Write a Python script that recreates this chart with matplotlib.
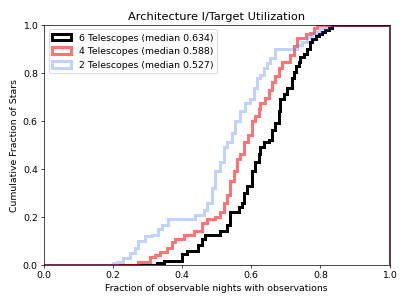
import matplotlib
matplotlib.use("Agg")
import matplotlib.pyplot as plt
import matplotlib.patches as mpatches

# step edges (fraction of nights) and cumulative fraction
x6 = [0.327, 0.346, 0.399, 0.414, 0.447, 0.457, 0.467, 0.510, 0.529, 0.539,
      0.563, 0.573, 0.578, 0.587, 0.602, 0.612, 0.621, 0.626, 0.636, 0.650,
      0.660, 0.670, 0.679, 0.684, 0.694, 0.703, 0.718, 0.723, 0.728, 0.737,
      0.742, 0.752, 0.761, 0.771, 0.776, 0.786, 0.795, 0.805, 0.814, 0.824, 0.834]
y6 = [0.007, 0.017, 0.045, 0.06, 0.083, 0.11, 0.125, 0.14, 0.165, 0.22,
      0.24, 0.26, 0.30, 0.33, 0.39, 0.43, 0.46, 0.49, 0.51, 0.52,
      0.56, 0.59, 0.64, 0.69, 0.71, 0.735, 0.78, 0.805, 0.83, 0.845,
      0.865, 0.88, 0.90, 0.93, 0.94, 0.955, 0.96, 0.97, 0.98, 0.985, 1.0]

x4 = [0.273, 0.307, 0.322, 0.336, 0.356, 0.370, 0.380, 0.404, 0.433, 0.457,
      0.471, 0.496, 0.510, 0.520, 0.529, 0.539, 0.549, 0.558, 0.568, 0.580,
      0.590, 0.602, 0.612, 0.621, 0.626, 0.641, 0.650, 0.660, 0.670, 0.679,
      0.689, 0.713, 0.723, 0.732, 0.757, 0.771, 0.781, 0.790]
y4 = [0.014, 0.035, 0.042, 0.056, 0.07, 0.097, 0.11, 0.125, 0.14, 0.174,
      0.19, 0.20, 0.22, 0.26, 0.29, 0.35, 0.39, 0.44, 0.46, 0.51,
      0.54, 0.60, 0.62, 0.65, 0.675, 0.695, 0.73, 0.76, 0.785, 0.82,
      0.845, 0.875, 0.91, 0.945, 0.96, 0.965, 0.986, 1.0]

x2 = [0.201, 0.211, 0.230, 0.249, 0.264, 0.273, 0.293, 0.312, 0.331, 0.341,
      0.360, 0.438, 0.462, 0.471, 0.486, 0.496, 0.510, 0.520, 0.529, 0.544,
      0.554, 0.568, 0.583, 0.597, 0.607, 0.616, 0.626, 0.636, 0.645, 0.655,
      0.670, 0.732, 0.747, 0.761, 0.776, 0.786, 0.800, 0.819]
y2 = [0.007, 0.014, 0.028, 0.05, 0.07, 0.10, 0.12, 0.125, 0.15, 0.167,
      0.19, 0.21, 0.23, 0.26, 0.32, 0.39, 0.43, 0.49, 0.51, 0.55,
      0.60, 0.64, 0.675, 0.69, 0.735, 0.78, 0.79, 0.82, 0.84, 0.86,
      0.90, 0.915, 0.93, 0.95, 0.965, 0.97, 0.985, 1.0]

labels = ['6 Telescopes (median 0.634)',
          '4 Telescopes (median 0.588)',
          '2 Telescopes (median 0.527)']

plt.rcParams['font.size'] = 10.7

fig = plt.figure(figsize=(6.4, 4.8), dpi=63.6)
ax = fig.add_axes([0.108, 0.131, 0.849, 0.787])

series = [(x6, y6, 'k', 1.0), (x4, y4, 'r', 0.55), (x2, y2, '#4d7fff', 0.35)]
handles = []
for (xs, ys, c, a), lab in zip(series, labels):
    edges = [0.0] + xs + [1.0]
    vals = [0.0] + ys
    ax.stairs(vals, edges, baseline=0, fill=False, color=c, alpha=a,
              linewidth=3.4)
    handles.append(mpatches.Patch(fill=False, edgecolor=c, alpha=a,
                                  linewidth=3.4, label=lab))

ax.set_xlim(0, 1)
ax.set_ylim(0, 1)
ax.set_xlabel('Fraction of observable nights with observations')
ax.set_ylabel('Cumulative Fraction of Stars')
ax.set_title('Architecture I/Target Utilization')
ax.legend(handles=handles, loc='upper left')
fig.savefig('out.png', dpi=63.6)
